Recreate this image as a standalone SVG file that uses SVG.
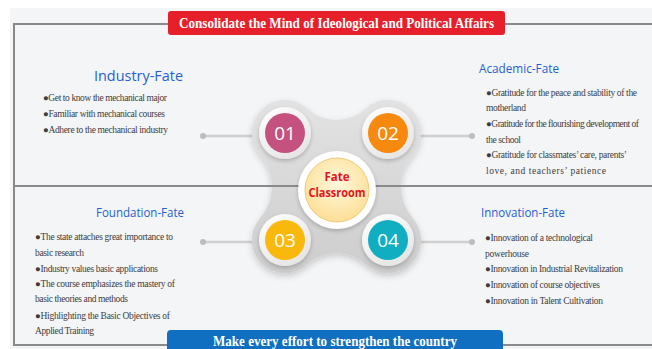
<svg xmlns="http://www.w3.org/2000/svg" width="652" height="349" viewBox="0 0 652 349">
  <style>
    .frame { stroke: #8a8a8a; stroke-width: 2; fill: none; }
    .link { stroke: #cfcfcf; stroke-width: 2.5; fill: none; }
    .dot { fill: #bdbdbd; }
    .title { font-family: "Open Sans", "Noto Sans", sans-serif; fill: #1f5fd3; }
    .item { font-family: "Liberation Serif", "DejaVu Serif", serif; font-size: 9.5px; fill: #3c3c3c; }
    .num { font-family: "Open Sans", "Noto Sans", sans-serif; font-size: 19px; fill: #ffffff; text-anchor: middle; }
    .hub { font-family: "Open Sans", "Noto Sans", sans-serif; font-size: 11.5px; font-weight: bold; fill: #e3141c; text-anchor: middle; }
    .banner { font-family: "Liberation Serif", "DejaVu Serif", serif; font-size: 14px; font-weight: bold; fill: #ffffff; text-anchor: middle; }
    .ring { fill: url(#ringGrad); filter: url(#soft); }
  </style>
  <defs>
    <linearGradient id="blobGrad" x1="0" y1="0" x2="0" y2="1">
      <stop offset="0" stop-color="#e3e3e3"/>
      <stop offset="1" stop-color="#cdcdcd"/>
    </linearGradient>
    <linearGradient id="ringGrad" x1="0" y1="0" x2="0.6" y2="1">
      <stop offset="0" stop-color="#ffffff"/>
      <stop offset="1" stop-color="#e6e6e6"/>
    </linearGradient>
    <radialGradient id="hubGrad" cx="0.5" cy="0.4" r="0.6">
      <stop offset="0" stop-color="#fff8dc"/>
      <stop offset="1" stop-color="#fddf96"/>
    </radialGradient>
    <filter id="soft" x="-30%" y="-30%" width="160%" height="160%">
      <feDropShadow dx="0" dy="2" stdDeviation="2" flood-color="#000000" flood-opacity="0.22"/>
    </filter>
    <filter id="blobShadow" x="-20%" y="-20%" width="140%" height="140%">
      <feDropShadow dx="0" dy="3" stdDeviation="3" flood-color="#000000" flood-opacity="0.18"/>
    </filter>
  </defs>

  <!-- page background -->
  <rect x="0" y="0" width="652" height="349" fill="#ffffff"/>
  <rect x="10" y="8" width="642" height="341" fill="#f4f5f7"/>

  <!-- connectors from the hub to the four text blocks -->
  <g id="connectors">
    <line class="link" x1="203" y1="136" x2="260" y2="136"/>
    <circle class="dot" cx="203" cy="136" r="3"/>
    <line class="link" x1="412" y1="136" x2="472" y2="136"/>
    <circle class="dot" cx="472" cy="136" r="3"/>
    <line class="link" x1="203" y1="242" x2="260" y2="242"/>
    <circle class="dot" cx="203" cy="242" r="3"/>
    <line class="link" x1="412" y1="242" x2="472" y2="242"/>
    <circle class="dot" cx="472" cy="242" r="3"/>
  </g>

  <!-- four-lobed grey base -->
  <g id="hub-base">
    <path d="M307.3,108.65 A43.3,43.3 0 0 0 365.7,108.65 A33,33 0 0 1 412.91,154.65 A48.56,48.56 0 0 0 412.91,218.35 A33,33 0 0 1 365.7,264.35 A43.3,43.3 0 0 0 307.3,264.35 A33,33 0 0 1 260.09,218.35 A48.56,48.56 0 0 0 260.09,154.65 A33,33 0 0 1 307.3,108.65 Z" fill="url(#blobGrad)" filter="url(#blobShadow)"/>
  </g>

  <!-- frame lines -->
  <g id="frame">
    <path class="frame" d="M652,24 H14 V345 H652"/>
    <line class="frame" x1="14" y1="186" x2="652" y2="186"/>
  </g>

  <!-- numbered lobes -->
  <g id="lobe-01">
    <circle class="ring" cx="285" cy="133" r="26"/>
    <circle cx="285" cy="133" r="20" fill="#c5517f"/>
    <text class="num" x="285" y="140">01</text>
  </g>
  <g id="lobe-02">
    <circle class="ring" cx="388" cy="133" r="26"/>
    <circle cx="388" cy="133" r="20" fill="#f7890e"/>
    <text class="num" x="388" y="140">02</text>
  </g>
  <g id="lobe-03">
    <circle class="ring" cx="285" cy="240" r="26"/>
    <circle cx="285" cy="240" r="20" fill="#f9b80c"/>
    <text class="num" x="285" y="247">03</text>
  </g>
  <g id="lobe-04">
    <circle class="ring" cx="388" cy="240" r="26"/>
    <circle cx="388" cy="240" r="20" fill="#11aec2"/>
    <text class="num" x="388" y="247">04</text>
  </g>

  <!-- centre -->
  <g id="hub">
    <circle cx="337" cy="190" r="39" fill="#ffffff" filter="url(#soft)"/>
    <circle cx="337" cy="190" r="32" fill="url(#hubGrad)" stroke="#f0c878" stroke-width="1"/>
    <text class="hub" x="337" y="181">Fate</text>
    <text class="hub" x="337" y="197" textLength="57" lengthAdjust="spacingAndGlyphs">Classroom</text>
  </g>

  <!-- text blocks (item lines keep glyph size, only the gaps are tuned) -->
  <g id="industry-fate">
    <text class="title" x="94" y="81" font-size="15" textLength="89" lengthAdjust="spacingAndGlyphs">Industry-Fate</text>
    <text class="item" x="43" y="101" textLength="124" lengthAdjust="spacing">●Get to know the mechanical major</text>
    <text class="item" x="43" y="117" textLength="122" lengthAdjust="spacing">●Familiar with mechanical  courses</text>
    <text class="item" x="43" y="133" textLength="125" lengthAdjust="spacing">●Adhere to the mechanical  industry</text>
  </g>

  <g id="academic-fate">
    <text class="title" x="479" y="73" font-size="12.5" textLength="80" lengthAdjust="spacingAndGlyphs">Academic-Fate</text>
    <text class="item" x="486" y="96" textLength="151" lengthAdjust="spacing">●Gratitude for the peace and stability of the</text>
    <text class="item" x="486" y="111" textLength="40" lengthAdjust="spacing">motherland</text>
    <text class="item" x="486" y="127" textLength="153" lengthAdjust="spacing">●Gratitude for the flourishing development of</text>
    <text class="item" x="486" y="143" textLength="35" lengthAdjust="spacing">the school</text>
    <text class="item" x="486" y="158" textLength="141" lengthAdjust="spacing">●Gratitude for classmates&#8217; care, parents&#8217;</text>
    <text class="item" x="486" y="174" textLength="120" lengthAdjust="spacing">love, and teachers&#8217; patience</text>
  </g>

  <g id="foundation-fate">
    <text class="title" x="96" y="217" font-size="12.5" textLength="88" lengthAdjust="spacingAndGlyphs">Foundation-Fate</text>
    <text class="item" x="35" y="240" textLength="138" lengthAdjust="spacing">●The state attaches great importance to</text>
    <text class="item" x="35" y="256" textLength="49" lengthAdjust="spacing">basic research</text>
    <text class="item" x="35" y="272" textLength="123" lengthAdjust="spacing">●Industry values basic applications</text>
    <text class="item" x="35" y="287" textLength="140" lengthAdjust="spacing">●The course emphasizes the mastery of</text>
    <text class="item" x="35" y="302" textLength="93" lengthAdjust="spacing">basic theories and methods</text>
    <text class="item" x="35" y="319" textLength="135" lengthAdjust="spacing">●Highlighting the Basic Objectives of</text>
    <text class="item" x="35" y="334" textLength="59" lengthAdjust="spacing">Applied Training</text>
  </g>

  <g id="innovation-fate">
    <text class="title" x="481" y="217" font-size="12.5" textLength="84" lengthAdjust="spacingAndGlyphs">Innovation-Fate</text>
    <text class="item" x="485" y="241" textLength="108" lengthAdjust="spacing">●Innovation of a technological</text>
    <text class="item" x="485" y="257" textLength="44" lengthAdjust="spacing">powerhouse</text>
    <text class="item" x="485" y="272" textLength="138" lengthAdjust="spacing">●Innovation in Industrial Revitalization</text>
    <text class="item" x="485" y="288" textLength="115" lengthAdjust="spacing">●Innovation of course objectives</text>
    <text class="item" x="485" y="304" textLength="118" lengthAdjust="spacing">●Innovation in Talent  Cultivation</text>
  </g>

  <!-- banners -->
  <g id="banner-top">
    <rect x="168" y="11" width="337" height="24" rx="3" fill="#e5202a"/>
    <text class="banner" x="336.5" y="28" textLength="315" lengthAdjust="spacingAndGlyphs">Consolidate the Mind of Ideological and Political Affairs</text>
  </g>
  <g id="banner-bottom">
    <path d="M167,349 V334 Q167,330 171,330 H499 Q503,330 503,334 V349 Z" fill="#106fc0"/>
    <text class="banner" x="335" y="346" textLength="244" lengthAdjust="spacingAndGlyphs">Make every effort to strengthen the country</text>
  </g>
</svg>
